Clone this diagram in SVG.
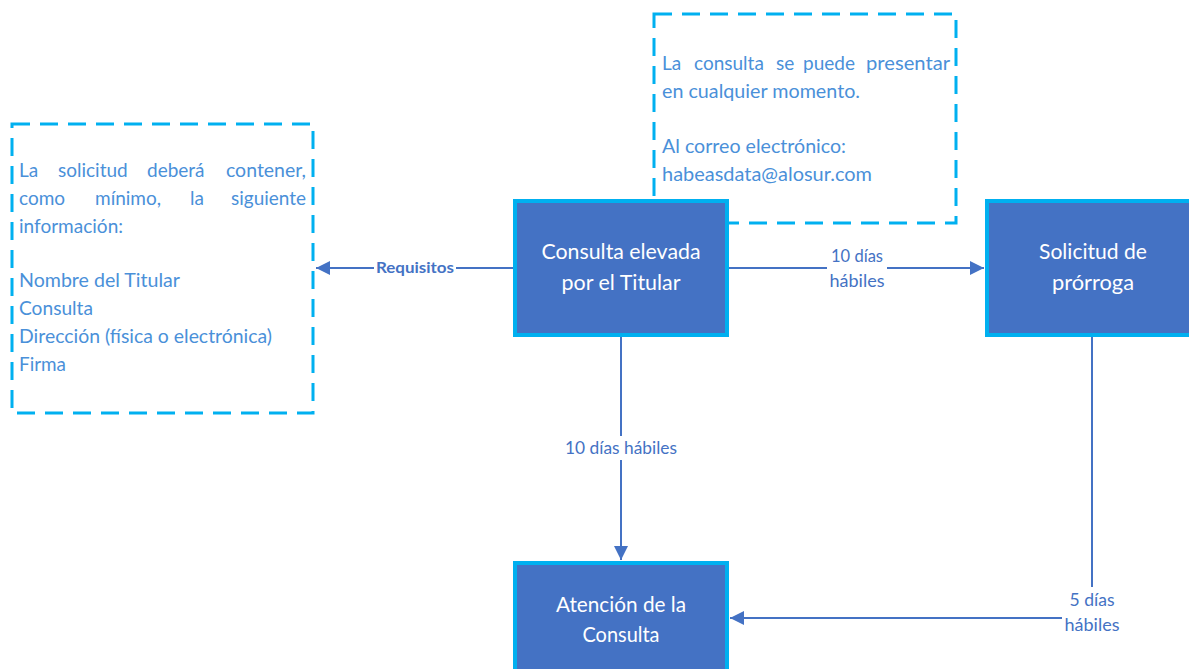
<svg xmlns="http://www.w3.org/2000/svg" width="1189" height="669" viewBox="0 0 1189 669">
<style>
.note{fill:none;stroke:#00B0F0;stroke-width:3;stroke-dasharray:18 10}
.nt{font-family:Lato,"Open Sans","Liberation Sans",sans-serif;font-size:19px;fill:#4A90D9}
.box{fill:#4472C4;stroke:#00B0F0;stroke-width:4}
.bt{font-family:Lato,"Open Sans","Liberation Sans",sans-serif;font-size:21px;fill:#FFFFFF;text-anchor:middle}
.edge{fill:none;stroke:#4472C4;stroke-width:2}
.el{font-family:Lato,"Open Sans","Liberation Sans",sans-serif;font-size:17px;fill:#4472C4;text-anchor:middle}
.elb{font-family:Lato,"Open Sans","Liberation Sans",sans-serif;font-size:15px;font-weight:bold;fill:#4472C4;text-anchor:middle}
</style>
<defs>
<marker id="arr" viewBox="0 0 10 10" refX="10" refY="5" markerWidth="7" markerHeight="7" orient="auto" markerUnits="strokeWidth">
<path d="M0,0 L10,5 L0,10 z" fill="#4472C4"/>
</marker>
</defs>
<rect width="1189" height="669" fill="#FFFFFF"/>

<g id="note-requisitos">
<rect class="note" x="12" y="124" width="301" height="289"/>
<text class="nt"><tspan x="19" y="177">La</tspan><tspan x="58" y="177">solicitud</tspan><tspan x="147" y="177">deberá</tspan><tspan x="226" y="177" textLength="80" lengthAdjust="spacingAndGlyphs">contener,</tspan></text>
<text class="nt"><tspan x="19" y="205">como</tspan><tspan x="95" y="205">mínimo,</tspan><tspan x="190" y="205">la</tspan><tspan x="231" y="205" textLength="75" lengthAdjust="spacingAndGlyphs">siguiente</tspan></text>
<text class="nt" x="19" y="233" textLength="104" lengthAdjust="spacingAndGlyphs">información:</text>
<text class="nt" x="19" y="287" textLength="161" lengthAdjust="spacingAndGlyphs">Nombre del Titular</text>
<text class="nt" x="19" y="315" textLength="74" lengthAdjust="spacingAndGlyphs">Consulta</text>
<text class="nt" x="19" y="343" textLength="253" lengthAdjust="spacingAndGlyphs">Dirección (física o electrónica)</text>
<text class="nt" x="19" y="371" textLength="47" lengthAdjust="spacingAndGlyphs">Firma</text>
</g>

<g id="note-presentacion">
<rect class="note" x="654" y="14" width="302" height="209"/>
<text class="nt"><tspan x="662" y="70">La</tspan><tspan x="694" y="70">consulta</tspan><tspan x="776" y="70">se</tspan><tspan x="803" y="70">puede</tspan><tspan x="866" y="70" textLength="84" lengthAdjust="spacingAndGlyphs">presentar</tspan></text>
<text class="nt" x="662" y="98" textLength="198" lengthAdjust="spacingAndGlyphs">en cualquier momento.</text>
<text class="nt" x="662" y="153" textLength="184" lengthAdjust="spacingAndGlyphs">Al correo electrónico:</text>
<text class="nt" x="662" y="181" textLength="210" lengthAdjust="spacingAndGlyphs">habeasdata@alosur.com</text>
</g>

<g id="connectors">
<line class="edge" x1="513" y1="268" x2="316" y2="268" marker-end="url(#arr)"/>
<rect x="374" y="258" width="82" height="20" fill="#FFFFFF"/>
<text class="elb" x="415" y="273" textLength="78" lengthAdjust="spacingAndGlyphs">Requisitos</text>

<line class="edge" x1="729" y1="268" x2="984" y2="268" marker-end="url(#arr)"/>
<rect x="827" y="244" width="60" height="48" fill="#FFFFFF"/>
<text class="el" x="857" y="262" textLength="52" lengthAdjust="spacingAndGlyphs">10 días</text>
<text class="el" x="857" y="287" textLength="55" lengthAdjust="spacingAndGlyphs">hábiles</text>

<line class="edge" x1="621" y1="337" x2="621" y2="560" marker-end="url(#arr)"/>
<rect x="563" y="436" width="116" height="24" fill="#FFFFFF"/>
<text class="el" x="621" y="454" textLength="112" lengthAdjust="spacingAndGlyphs">10 días hábiles</text>

<polyline class="edge" points="1092,337 1092,618 730,618" marker-end="url(#arr)"/>
<rect x="1062" y="587" width="60" height="50" fill="#FFFFFF"/>
<text class="el" x="1092" y="606" textLength="45" lengthAdjust="spacingAndGlyphs">5 días</text>
<text class="el" x="1092" y="631" textLength="55" lengthAdjust="spacingAndGlyphs">hábiles</text>
</g>

<g id="node-consulta">
<rect class="box" x="515" y="201" width="212" height="134"/>
<text class="bt" x="621" y="259" textLength="159" lengthAdjust="spacingAndGlyphs">Consulta elevada</text>
<text class="bt" x="621" y="290" textLength="119" lengthAdjust="spacingAndGlyphs">por el Titular</text>
</g>

<g id="node-prorroga">
<rect class="box" x="987" y="201" width="212" height="134"/>
<text class="bt" x="1093" y="259" textLength="108" lengthAdjust="spacingAndGlyphs">Solicitud de</text>
<text class="bt" x="1093" y="290" textLength="82" lengthAdjust="spacingAndGlyphs">prórroga</text>
</g>

<g id="node-atencion">
<rect class="box" x="515" y="563" width="212" height="120"/>
<text class="bt" x="621" y="612" textLength="130" lengthAdjust="spacingAndGlyphs">Atención de la</text>
<text class="bt" x="621" y="642" textLength="77" lengthAdjust="spacingAndGlyphs">Consulta</text>
</g>
</svg>
